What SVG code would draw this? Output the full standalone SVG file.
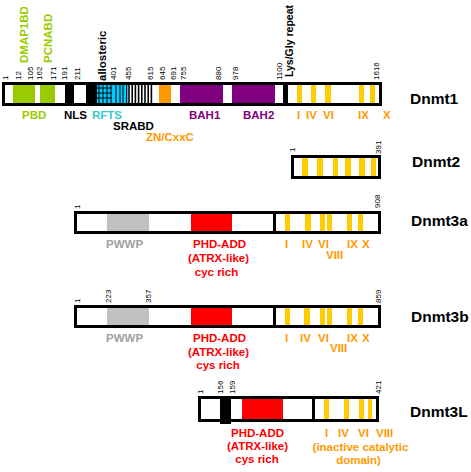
<svg xmlns="http://www.w3.org/2000/svg" width="471" height="472" viewBox="0 0 471 472">
<style>
text{font-family:"Liberation Sans",Arial,sans-serif;font-weight:bold}
.n{font-size:8px;font-weight:normal}
.l{font-size:11.5px}
.t{font-size:15.5px}
.box{fill:none;stroke:#000;stroke-width:3}
.y{fill:#ffcc00}
.ro{fill:#ff9900}
.g{fill:#99cc00}
.p{fill:#800080}
.r{fill:#ff0000}
.gr{fill:#c0c0c0}
.mid{text-anchor:middle}
</style>
<rect width="471" height="472" fill="#fff"/>

<g id="dnmt1">
<rect x="13" y="83" width="22" height="22" class="g"/>
<rect x="40" y="83" width="15" height="22" class="g"/>
<rect x="65" y="83" width="9" height="22" fill="#000"/>
<rect x="86" y="83" width="11" height="22" fill="#000"/>
<rect x="97" y="83" width="31" height="22" fill="#00ccff"/>
<g stroke="#000" stroke-width="1">
<line x1="99" y1="83" x2="99" y2="105"/><line x1="103" y1="83" x2="103" y2="105"/><line x1="107" y1="83" x2="107" y2="105"/><line x1="111" y1="83" x2="111" y2="105"/>
<line x1="97" y1="88" x2="112" y2="88"/><line x1="97" y1="93" x2="112" y2="93"/><line x1="97" y1="98" x2="112" y2="98"/>
<line x1="116" y1="83" x2="116" y2="105"/><line x1="120" y1="83" x2="120" y2="105"/><line x1="123" y1="83" x2="123" y2="105"/><line x1="126.5" y1="83" x2="126.5" y2="105"/>
</g>
<g stroke="#000" stroke-width="1.6">
<line x1="129" y1="83" x2="129" y2="105"/><line x1="132.2" y1="83" x2="132.2" y2="105"/><line x1="135.4" y1="83" x2="135.4" y2="105"/><line x1="138.6" y1="83" x2="138.6" y2="105"/><line x1="141.8" y1="83" x2="141.8" y2="105"/><line x1="145" y1="83" x2="145" y2="105"/><line x1="148.2" y1="83" x2="148.2" y2="105"/><line x1="151.4" y1="83" x2="151.4" y2="105"/>
</g>
<rect x="159" y="83" width="12" height="22" class="ro"/>
<rect x="180" y="83" width="43" height="22" class="p"/>
<rect x="232" y="83" width="43" height="22" class="p"/>
<rect x="297" y="83" width="5" height="22" class="y"/>
<rect x="311" y="83" width="5" height="22" class="y"/>
<rect x="325" y="83" width="6" height="22" class="y"/>
<rect x="359" y="83" width="5" height="22" class="y"/>
<rect x="370" y="83" width="5" height="22" class="y"/>
<rect x="3.5" y="83.5" width="281" height="21" class="box"/>
<rect x="286.5" y="83.5" width="94" height="21" class="box"/>
<g class="n">
<text class="n" transform="translate(8,80) rotate(-90)">1</text>
<text class="n" transform="translate(21,80) rotate(-90)">12</text>
<text class="n" transform="translate(33,80) rotate(-90)">105</text>
<text class="n" transform="translate(42,80) rotate(-90)">162</text>
<text class="n" transform="translate(56,80) rotate(-90)">171</text>
<text class="n" transform="translate(67,80) rotate(-90)">191</text>
<text class="n" transform="translate(80,80) rotate(-90)">211</text>
<text class="n" transform="translate(116,80) rotate(-90)">401</text>
<text class="n" transform="translate(131,80) rotate(-90)">455</text>
<text class="n" transform="translate(153,80) rotate(-90)">615</text>
<text class="n" transform="translate(165,80) rotate(-90)">645</text>
<text class="n" transform="translate(176,80) rotate(-90)">691</text>
<text class="n" transform="translate(186,80) rotate(-90)">755</text>
<text class="n" transform="translate(221,80) rotate(-90)">880</text>
<text class="n" transform="translate(238,80) rotate(-90)">978</text>
<text class="n" transform="translate(282,80) rotate(-90)">1100</text>
<text class="n" transform="translate(379,80) rotate(-90)">1616</text>
</g>
<text class="l g" transform="translate(28,63) rotate(-90)">DMAP1BD</text>
<text class="l g" transform="translate(52,63) rotate(-90)">PCNABD</text>
<text class="l" transform="translate(106,81) rotate(-90)">allosteric</text>
<text class="l" transform="translate(293,77) rotate(-90)" style="font-size:10.5px">Lys/Gly repeat</text>
<text class="l g" x="22" y="119">PBD</text>
<text class="l" x="64" y="119">NLS</text>
<text class="l" x="92" y="119" fill="#33cccc">RFTS</text>
<text class="l" x="113" y="130">SRABD</text>
<text class="l ro" x="146" y="141">ZN/CxxC</text>
<text class="l p" x="189" y="119">BAH1</text>
<text class="l p" x="243" y="119">BAH2</text>
<text class="l ro" x="297" y="119">I</text>
<text class="l ro" x="306" y="119">IV</text>
<text class="l ro" x="323" y="119">VI</text>
<text class="l ro" x="358" y="119">IX</text>
<text class="l ro" x="383" y="119">X</text>
<text class="t" x="410" y="104">Dnmt1</text>
</g>

<g id="dnmt2">
<rect x="302" y="156" width="6" height="22" class="y"/>
<rect x="317" y="156" width="6" height="22" class="y"/>
<rect x="333" y="156" width="5" height="22" class="y"/>
<rect x="345" y="156" width="6" height="22" class="y"/>
<rect x="359" y="156" width="6" height="22" class="y"/>
<rect x="371" y="156" width="5" height="22" class="y"/>
<rect x="292.5" y="156.5" width="87" height="21" class="box"/>
<text class="n" transform="translate(295,152) rotate(-90)">1</text>
<text class="n" transform="translate(381,154) rotate(-90)">391</text>
<text class="t" x="412" y="167">Dnmt2</text>
</g>

<g id="dnmt3a">
<rect x="107" y="212" width="42" height="21" class="gr"/>
<rect x="191" y="212" width="41" height="21" class="r"/>
<rect x="285" y="212" width="5" height="21" class="y"/>
<rect x="305" y="212" width="6" height="21" class="y"/>
<rect x="320" y="212" width="5" height="21" class="y"/>
<rect x="327" y="212" width="5" height="21" class="y"/>
<rect x="347" y="212" width="5" height="21" class="y"/>
<rect x="358" y="212" width="5" height="21" class="y"/>
<rect x="75.5" y="212.5" width="304" height="20" class="box"/>
<line x1="274.5" y1="212" x2="274.5" y2="233" stroke="#000" stroke-width="3"/>
<text class="n" transform="translate(80,209) rotate(-90)">1</text>
<text class="n" transform="translate(380,208) rotate(-90)">908</text>
<text class="t" x="411" y="226">Dnmt3a</text>
<text class="l" x="106" y="248" fill="#a0a0a0">PWWP</text>
<text class="l r mid" x="219.5" y="248">PHD-ADD</text>
<text class="l r mid" x="218.5" y="262">(ATRX-like)</text>
<text class="l r mid" x="216.5" y="276">cyc rich</text>
<text class="l ro" x="285" y="248">I</text>
<text class="l ro" x="302" y="248">IV</text>
<text class="l ro" x="318" y="248">VI</text>
<text class="l ro" x="347" y="248">IX</text>
<text class="l ro" x="362" y="248">X</text>
<text class="l ro" x="326" y="259">VIII</text>
</g>

<g id="dnmt3b">
<rect x="107" y="306" width="42" height="21" class="gr"/>
<rect x="191" y="306" width="41" height="21" class="r"/>
<rect x="285" y="306" width="5" height="21" class="y"/>
<rect x="304" y="306" width="6" height="21" class="y"/>
<rect x="320" y="306" width="5" height="21" class="y"/>
<rect x="327" y="306" width="5" height="21" class="y"/>
<rect x="347" y="306" width="5" height="21" class="y"/>
<rect x="358" y="306" width="5" height="21" class="y"/>
<rect x="75.5" y="306.5" width="304" height="20" class="box"/>
<line x1="274.5" y1="306" x2="274.5" y2="327" stroke="#000" stroke-width="3"/>
<text class="n" transform="translate(80,303) rotate(-90)">1</text>
<text class="n" transform="translate(111,303) rotate(-90)">223</text>
<text class="n" transform="translate(151,303) rotate(-90)">357</text>
<text class="n" transform="translate(381,303) rotate(-90)">859</text>
<text class="t" x="411" y="322">Dnmt3b</text>
<text class="l" x="106" y="342" fill="#a0a0a0">PWWP</text>
<text class="l r mid" x="219.5" y="342">PHD-ADD</text>
<text class="l r mid" x="218.5" y="356">(ATRX-like)</text>
<text class="l r mid" x="218" y="369">cys rich</text>
<text class="l ro" x="285" y="342">I</text>
<text class="l ro" x="300" y="342">IV</text>
<text class="l ro" x="318" y="342">VI</text>
<text class="l ro" x="347" y="342">IX</text>
<text class="l ro" x="362" y="342">X</text>
<text class="l ro" x="330" y="352">VIII</text>
</g>

<g id="dnmt3l">
<rect x="242" y="397" width="41" height="24" class="r"/>
<rect x="324" y="397" width="5" height="24" class="y"/>
<rect x="344" y="397" width="5" height="24" class="y"/>
<rect x="359" y="397" width="5" height="24" class="y"/>
<rect x="368" y="397" width="4" height="24" class="y"/>
<rect x="220" y="396" width="11" height="28" fill="#000"/>
<rect x="199.5" y="397.5" width="178" height="23" class="box"/>
<line x1="313.5" y1="397" x2="313.5" y2="421" stroke="#000" stroke-width="3"/>
<text class="n" transform="translate(203,394) rotate(-90)">1</text>
<text class="n" transform="translate(223,394) rotate(-90)">156</text>
<text class="n" transform="translate(235,394) rotate(-90)">159</text>
<text class="n" transform="translate(381,394) rotate(-90)">421</text>
<text class="t" x="410" y="417">Dnmt3L</text>
<text class="l r mid" x="257.5" y="437">PHD-ADD</text>
<text class="l r mid" x="257.5" y="450">(ATRX-like)</text>
<text class="l r mid" x="257" y="463">cys rich</text>
<text class="l ro" x="325" y="437">I</text>
<text class="l ro" x="338" y="437">IV</text>
<text class="l ro" x="358" y="437">VI</text>
<text class="l ro" x="376" y="437">VIII</text>
<text class="l ro mid" x="360.5" y="451">(inactive catalytic</text>
<text class="l ro mid" x="358.5" y="464">domain)</text>
</g>
</svg>
